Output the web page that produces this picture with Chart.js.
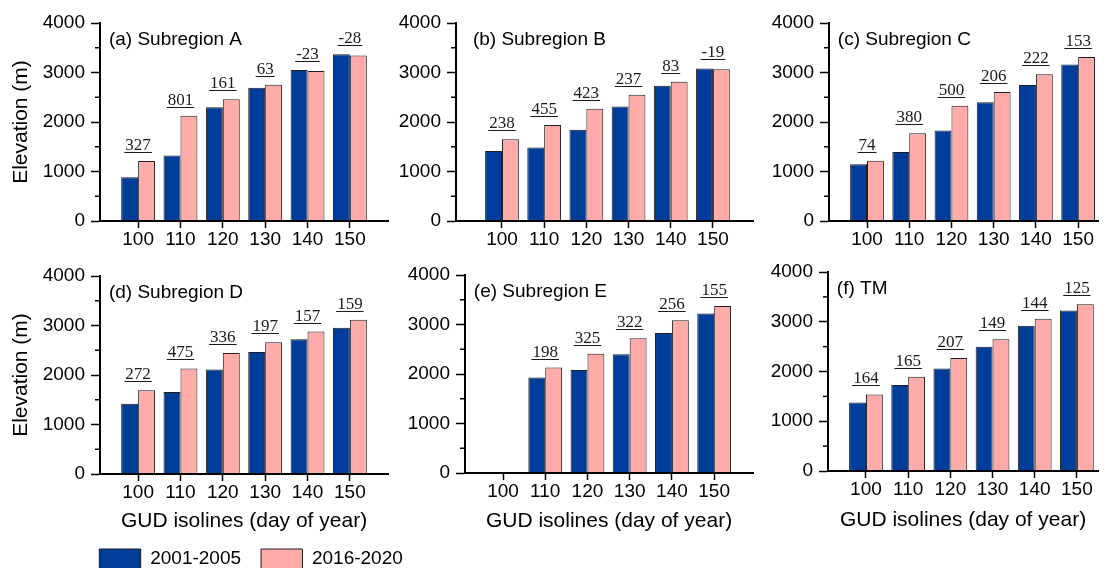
<!DOCTYPE html>
<html>
<head>
<meta charset="utf-8">
<script src="https://cdn.jsdelivr.net/npm/chart.js@4.4.1/dist/chart.umd.min.js"></script>
<style>
  html, body { margin: 0; padding: 0; background: #fff; overflow: hidden; width: 1105px; height: 568px; }
  canvas { position: absolute; left: 0; top: 0; }
</style>
</head>
<body>
<canvas id="panelA" width="1105" height="568"></canvas>
<canvas id="panelB" width="1105" height="568"></canvas>
<canvas id="panelC" width="1105" height="568"></canvas>
<canvas id="panelD" width="1105" height="568"></canvas>
<canvas id="panelE" width="1105" height="568"></canvas>
<canvas id="panelF" width="1105" height="568"></canvas>
<canvas id="legendBox" width="1105" height="620"></canvas>
<script>
// GUD isoline categories (day of year) and period names
const gudDays = [100, 110, 120, 130, 140, 150];
const seriesNames = ['2001-2005', '2016-2020'];
const yTickValues = [0, 1000, 2000, 3000, 4000];
const yMinorTicks = [500, 1500, 2500, 3500];
const yAxisTitle = 'Elevation (m)';
const xAxisTitle = 'GUD isolines (day of year)';

// Mean elevation (m) of each isoline, and the change between periods
const elevA_2001 = [885, 1325, 2297, 2690, 3052, 3370];
const elevA_2016 = [1212, 2126, 2458, 2753, 3029, 3342];
const changeA    = [327, 801, 161, 63, -23, -28];

const elevB_2001 = [1416, 1486, 1843, 2314, 2730, 3083];
const elevB_2016 = [1654, 1941, 2266, 2551, 2813, 3064];
const changeB    = [238, 455, 423, 237, 83, -19];

const elevC_2001 = [1144, 1392, 1828, 2400, 2745, 3160];
const elevC_2016 = [1218, 1772, 2328, 2606, 2967, 3313];
const changeC    = [74, 380, 500, 206, 222, 153];

const elevD_2001 = [1420, 1658, 2110, 2466, 2720, 2956];
const elevD_2016 = [1692, 2133, 2446, 2663, 2877, 3115];
const changeD    = [272, 475, 336, 197, 157, 159];

const elevE_2001 = [null, 1931, 2083, 2400, 2830, 3220];
const elevE_2016 = [null, 2129, 2408, 2722, 3086, 3375];
const changeE    = [null, 198, 325, 322, 256, 155];

const elevF_2001 = [1376, 1730, 2062, 2500, 2918, 3228];
const elevF_2016 = [1540, 1895, 2269, 2649, 3062, 3353];
const changeF    = [164, 165, 207, 149, 144, 125];

const PAGE_W = 1105, PAGE_H = 568;
const BLUE = '#003C9A';
const PINK = '#FFABAA';
const EDGE = '#1E1E1E';
const TAG_X_VALUE = 93.1;

Chart.defaults.font.family = '"Liberation Sans", Arial, sans-serif';
Chart.defaults.color = '#000';

// Panel tag, minor y ticks and underlined change labels above each bar pair
const panelDecor = {
  id: 'panelDecor',
  afterDatasetsDraw(chart, args, opts) {
    const { ctx, scales: { x } } = chart;
    const early = chart.getDatasetMeta(0).data;
    const late = chart.getDatasetMeta(1).data;
    ctx.save();
    ctx.font = '17px "Liberation Serif", "Times New Roman", serif';
    ctx.textAlign = 'center';
    ctx.textBaseline = 'alphabetic';
    ctx.fillStyle = '#1a1a1a';
    ctx.strokeStyle = '#1a1a1a';
    ctx.lineWidth = 1;
    opts.change.forEach((d, i) => {
      if (d === null || d === undefined) return;
      const top = Math.min(early[i].y, late[i].y);
      const cx = x.getPixelForValue(gudDays[i]);
      const txt = String(d);
      const w = ctx.measureText(txt).width;
      ctx.fillText(txt, cx, top - 11);
      ctx.beginPath();
      ctx.moveTo(cx - w / 2 - 1, Math.round(top - 9) + 0.5);
      ctx.lineTo(cx + w / 2 + 1, Math.round(top - 9) + 0.5);
      ctx.stroke();
    });
    ctx.restore();
  },
  afterDraw(chart, args, opts) {
    const { ctx, chartArea: a, scales: { x, y } } = chart;
    ctx.save();
    ctx.strokeStyle = '#000';
    ctx.lineWidth = 1.5;
    yMinorTicks.forEach(v => {
      const py = y.getPixelForValue(v);
      ctx.beginPath();
      ctx.moveTo(a.left - 5, py);
      ctx.lineTo(a.left, py);
      ctx.stroke();
    });
    ctx.font = '19px "Liberation Sans", Arial, sans-serif';
    ctx.fillStyle = '#000';
    ctx.textAlign = 'left';
    ctx.textBaseline = 'alphabetic';
    ctx.fillText(opts.tag, x.getPixelForValue(TAG_X_VALUE), a.top + 22);
    ctx.restore();
  }
};

function buildPanel(canvasId, tag, early, late, change, frame) {
  const yWidth = frame.yTitle ? frame.left : 60;
  const xHeight = frame.xTitleMid ? frame.xTitleMid + 12.6 - frame.bottom : 40;
  return new Chart(document.getElementById(canvasId), {
    type: 'bar',
    data: {
      labels: gudDays,
      datasets: [
        { label: seriesNames[0], data: early, backgroundColor: BLUE, borderColor: EDGE, borderWidth: 1,
          categoryPercentage: 0.8, barPercentage: 1.0 },
        { label: seriesNames[1], data: late, backgroundColor: PINK, borderColor: EDGE, borderWidth: 1,
          categoryPercentage: 0.8, barPercentage: 1.0 }
      ]
    },
    options: {
      responsive: false,
      animation: false,
      events: [],
      layout: {
        padding: {
          left: frame.left - yWidth,
          right: PAGE_W - frame.right,
          top: frame.top,
          bottom: PAGE_H - frame.bottom - xHeight
        }
      },
      scales: {
        x: {
          type: 'linear',
          offset: false,
          min: frame.xMin,
          max: frame.xMax,
          afterBuildTicks: s => { s.ticks = gudDays.map(v => ({ value: v })); },
          afterFit: s => { s.height = xHeight; },
          grid: { offset: false, drawOnChartArea: false, drawTicks: true, tickLength: 7, tickWidth: 1.5, tickColor: '#000', color: '#000' },
          border: { display: true, color: '#000', width: 2, z: 1 },
          ticks: { padding: 0, autoSkip: false, maxRotation: 0, font: { size: 19 }, color: '#000', callback: v => String(v) },
          title: { display: !!frame.xTitleMid, text: xAxisTitle, font: { size: 21 }, color: '#000', padding: { top: 0, bottom: 0 } }
        },
        y: {
          min: 0,
          max: 4000,
          afterBuildTicks: s => { s.ticks = yTickValues.map(v => ({ value: v })); },
          afterFit: s => { s.width = yWidth; },
          grid: { drawOnChartArea: false, drawTicks: true, tickLength: 9, tickWidth: 1.5, tickColor: '#000', color: '#000' },
          border: { display: true, color: '#000', width: 2, z: 1 },
          ticks: { padding: 6, font: { size: 19 }, color: '#000', callback: v => String(v) },
          title: { display: !!frame.yTitle, text: yAxisTitle, font: { size: 21 }, color: '#000', padding: { top: 9, bottom: 0 } }
        }
      },
      plugins: {
        legend: { display: false },
        tooltip: { enabled: false },
        panelDecor: { tag, change }
      }
    },
    plugins: [panelDecor]
  });
}

buildPanel('panelA', '(a) Subregion A', elevA_2001, elevA_2016, changeA,
  { left: 100, right: 388, top: 23, bottom: 221, xMin: 91, xMax: 159, yTitle: true });
buildPanel('panelB', '(b) Subregion B', elevB_2001, elevB_2016, changeB,
  { left: 456, right: 753, top: 23, bottom: 221, xMin: 89.1, xMax: 159.5 });
buildPanel('panelC', '(c) Subregion C', elevC_2001, elevC_2016, changeC,
  { left: 829, right: 1098, top: 23, bottom: 221, xMin: 91, xMax: 154.7 });
buildPanel('panelD', '(d) Subregion D', elevD_2001, elevD_2016, changeD,
  { left: 100, right: 388, top: 276, bottom: 474, xMin: 91, xMax: 159, yTitle: true, xTitleMid: 521 });
buildPanel('panelE', '(e) Subregion E', elevE_2001, elevE_2016, changeE,
  { left: 465, right: 753, top: 275, bottom: 473, xMin: 91, xMax: 159.2, xTitleMid: 521 });
buildPanel('panelF', '(f) TM', elevF_2001, elevF_2016, changeF,
  { left: 828, right: 1098, top: 272, bottom: 471, xMin: 91, xMax: 155, xTitleMid: 520.5 });

// Shared legend for both periods
new Chart(document.getElementById('legendBox'), {
  type: 'bar',
  data: {
    labels: [],
    datasets: [
      { label: seriesNames[0], data: [], backgroundColor: BLUE, borderColor: EDGE, borderWidth: 1 },
      { label: seriesNames[1], data: [], backgroundColor: PINK, borderColor: EDGE, borderWidth: 1 }
    ]
  },
  options: {
    responsive: false,
    animation: false,
    events: [],
    layout: { padding: { left: 79.3, top: 529, right: 0, bottom: 0 } },
    scales: { x: { display: false }, y: { display: false } },
    plugins: {
      tooltip: { enabled: false },
      legend: {
        display: true,
        position: 'top',
        align: 'start',
        labels: { boxWidth: 41.4, boxHeight: 20, padding: 20, font: { size: 19 }, color: '#000' }
      }
    }
  }
});
</script>
</body>
</html>
